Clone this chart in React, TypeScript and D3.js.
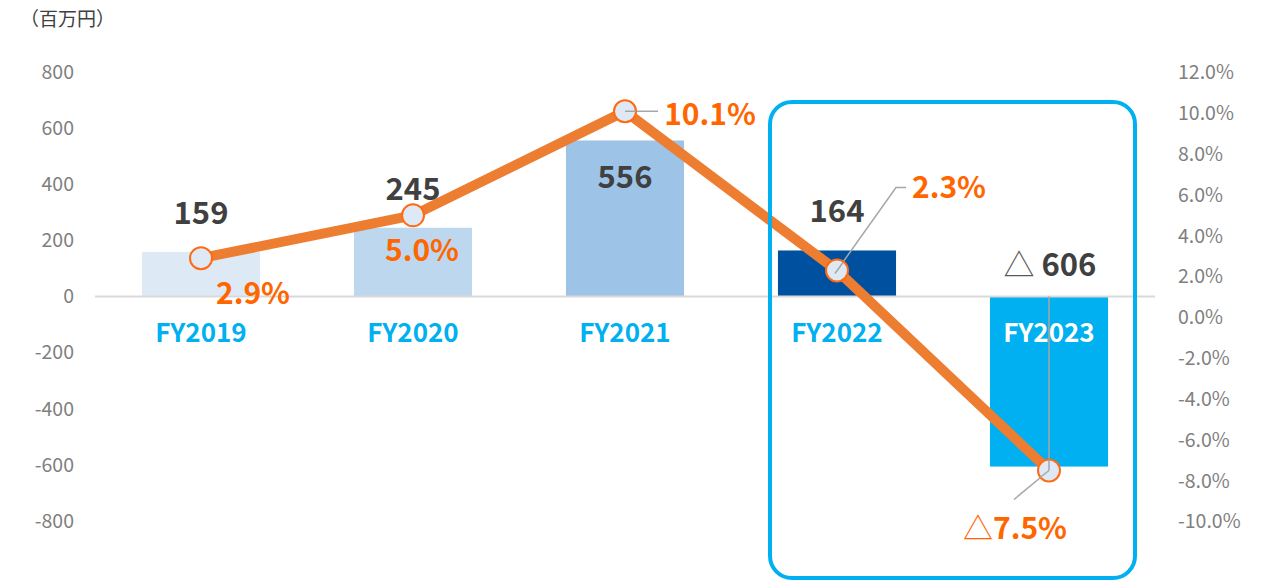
import React, { useEffect, useRef } from 'react';
import * as d3 from 'd3';

// data
const years = ['FY2019', 'FY2020', 'FY2021', 'FY2022', 'FY2023'];
const profit = [159, 245, 556, 164, -606];
const margin = [2.9, 5.0, 10.1, 2.3, -7.5];
const barColors = ['#ddeaf6', '#bdd7ee', '#9dc3e6', '#0050a0', '#00b0f0'];
const leftTicks = [800, 600, 400, 200, 0, -200, -400, -600, -800];
const rightTicks = [12, 10, 8, 6, 4, 2, 0, -2, -4, -6, -8, -10];

const FONT = '"Noto Sans CJK JP", "Noto Sans", sans-serif';

const fmtVal = (v: number) => (v < 0 ? `△ ${Math.abs(v)}` : `${v}`);
const fmtPct = (v: number) => (v < 0 ? `△${Math.abs(v).toFixed(1)}%` : `${v.toFixed(1)}%`);

const App = () => {
  const svgRef = useRef<SVGSVGElement>(null);

  useEffect(() => {
    const width = 1270;
    const height = 583;
    const plot = { left: 95, right: 1155, top: 72, bottom: 521 };

    const svg = d3.select(svgRef.current);
    svg.selectAll('*').remove();
    svg.attr('viewBox', [0, 0, width, height]);

    const x = d3.scaleBand()
      .domain(years)
      .range([plot.left, plot.right])
      .paddingInner(0.443)
      .paddingOuter(0.2215);

    const y = d3.scaleLinear().domain([-800, 800]).range([plot.bottom, plot.top]);
    const y2 = d3.scaleLinear().domain([-10, 12]).range([plot.bottom + 0.5, plot.top + 0.5]);
    const cx = (d: string) => (x(d) as number) + x.bandwidth() / 2;

    // unit label
    svg.append('text')
      .attr('x', 20)
      .attr('y', 26)
      .attr('font-family', FONT)
      .attr('font-size', 19)
      .attr('fill', '#404040')
      .text('（百万円）');

    // left axis labels
    svg.append('g')
      .selectAll('text')
      .data(leftTicks)
      .join('text')
      .attr('x', 74)
      .attr('y', d => y(d))
      .attr('dy', '0.35em')
      .attr('text-anchor', 'end')
      .attr('font-family', FONT)
      .attr('font-size', 19.5)
      .attr('fill', '#7f7f7f')
      .text(d => d);

    // right axis labels
    svg.append('g')
      .selectAll('text')
      .data(rightTicks)
      .join('text')
      .attr('x', 1178)
      .attr('y', d => y2(d))
      .attr('dy', '0.35em')
      .attr('font-family', FONT)
      .attr('font-size', 19.5)
      .attr('fill', '#7f7f7f')
      .text(d => `${d.toFixed(1)}%`);

    // bars
    svg.append('g')
      .selectAll('rect')
      .data(years)
      .join('rect')
      .attr('x', d => x(d) as number)
      .attr('width', x.bandwidth())
      .attr('y', (d, i) => Math.min(y(profit[i]), y(0)))
      .attr('height', (d, i) => Math.abs(y(profit[i]) - y(0)))
      .attr('fill', (d, i) => barColors[i]);

    // zero line
    svg.append('line')
      .attr('x1', plot.left)
      .attr('x2', plot.right)
      .attr('y1', y(0))
      .attr('y2', y(0))
      .attr('stroke', '#d9d9d9')
      .attr('stroke-width', 2);

    // category labels
    svg.append('g')
      .selectAll('text')
      .data(years)
      .join('text')
      .attr('x', d => cx(d))
      .attr('y', y(0) + 36)
      .attr('dy', '0.35em')
      .attr('text-anchor', 'middle')
      .attr('font-family', FONT)
      .attr('font-size', 26)
      .attr('font-weight', 'bold')
      .attr('fill', (d, i) => (i === 4 ? '#ffffff' : '#00b0f0'))
      .text(d => d);

    // leader lines
    const leaders = svg.append('g')
      .attr('fill', 'none')
      .attr('stroke', '#a6a6a6')
      .attr('stroke-width', 1.5);
    leaders.append('path')
      .attr('d', `M${cx(years[2])},${y2(margin[2])}H${cx(years[2]) + 33}`);
    leaders.append('path')
      .attr('d', `M${cx(years[3])},${y2(margin[3])}L${cx(years[3]) + 59},${y2(margin[3]) - 83}h10`);
    leaders.append('path')
      .attr('d', `M${cx(years[4])},${y(0)}V${y2(margin[4])}`);
    leaders.append('path')
      .attr('d', `M${cx(years[4])},${y2(margin[4])}L${cx(years[4]) - 35},${y2(margin[4]) + 29}`);

    // margin line
    const line = d3.line<number>()
      .x((d, i) => cx(years[i]))
      .y(d => y2(d));

    svg.append('path')
      .datum(margin)
      .attr('d', line)
      .attr('fill', 'none')
      .attr('stroke', '#ed7d31')
      .attr('stroke-width', 10)
      .attr('stroke-linejoin', 'round');

    svg.append('g')
      .selectAll('circle')
      .data(margin)
      .join('circle')
      .attr('cx', (d, i) => cx(years[i]))
      .attr('cy', d => y2(d))
      .attr('r', 11)
      .attr('fill', '#dee9f5')
      .attr('stroke', '#ff6a13')
      .attr('stroke-width', 2);

    // short leader stubs drawn over the markers
    const tip = svg.append('g')
      .attr('stroke', '#a6a6a6')
      .attr('stroke-width', 1.5);
    tip.append('line')
      .attr('x1', cx(years[2])).attr('y1', y2(margin[2]))
      .attr('x2', cx(years[2]) + 11).attr('y2', y2(margin[2]));
    tip.append('line')
      .attr('x1', cx(years[3]) - 2).attr('y1', y2(margin[3]) + 3)
      .attr('x2', cx(years[3]) + 6).attr('y2', y2(margin[3]) - 8);
    tip.append('line')
      .attr('x1', cx(years[4])).attr('y1', y2(margin[4]) - 11)
      .attr('x2', cx(years[4])).attr('y2', y2(margin[4]));
    tip.append('line')
      .attr('x1', cx(years[4])).attr('y1', y2(margin[4]))
      .attr('x2', cx(years[4]) - 9).attr('y2', y2(margin[4]) + 7);

    // value labels
    const valueDy = [-39, -39, 37, -39, 0];
    svg.append('g')
      .selectAll('text')
      .data(profit)
      .join('text')
      .attr('x', (d, i) => cx(years[i]) + (i === 4 ? 1 : 0))
      .attr('y', (d, i) => (i === 4 ? 265 : y(d) + valueDy[i]))
      .attr('dy', '0.35em')
      .attr('text-anchor', 'middle')
      .attr('font-family', FONT)
      .attr('font-size', 31)
      .attr('font-weight', 'bold')
      .attr('fill', '#404040')
      .each(function (d) {
        const t = d3.select(this);
        if (d < 0) {
          t.append('tspan').attr('font-weight', 'normal').attr('fill', '#595959').text('△ ');
          t.append('tspan').text(Math.abs(d));
        } else {
          t.text(fmtVal(d));
        }
      });

    // margin labels
    const pctPos = [[52, 35], [9, 35], [85, 3], [112, -83], [-34, 58]];
    svg.append('g')
      .selectAll('text')
      .data(margin)
      .join('text')
      .attr('x', (d, i) => cx(years[i]) + pctPos[i][0])
      .attr('y', (d, i) => y2(d) + pctPos[i][1])
      .attr('dy', '0.35em')
      .attr('text-anchor', 'middle')
      .attr('font-family', FONT)
      .attr('font-size', 30)
      .attr('font-weight', 'bold')
      .attr('fill', '#ff6600')
      .each(function (d) {
        const t = d3.select(this);
        if (d < 0) {
          t.append('tspan').attr('font-weight', 'normal').text('△');
          t.append('tspan').text(`${Math.abs(d).toFixed(1)}%`);
        } else {
          t.text(fmtPct(d));
        }
      });

    // highlight frame around the last two years
    svg.append('rect')
      .attr('x', 770)
      .attr('y', 102)
      .attr('width', 365)
      .attr('height', 476)
      .attr('rx', 22)
      .attr('fill', 'none')
      .attr('stroke', '#00b0f0')
      .attr('stroke-width', 4);
  });

  return (
    <svg
      ref={svgRef}
      width={1270}
      height={583}
      style={{ position: 'fixed', left: 0, top: 0, background: '#fff' }}
    ></svg>
  );
};

export default App;
